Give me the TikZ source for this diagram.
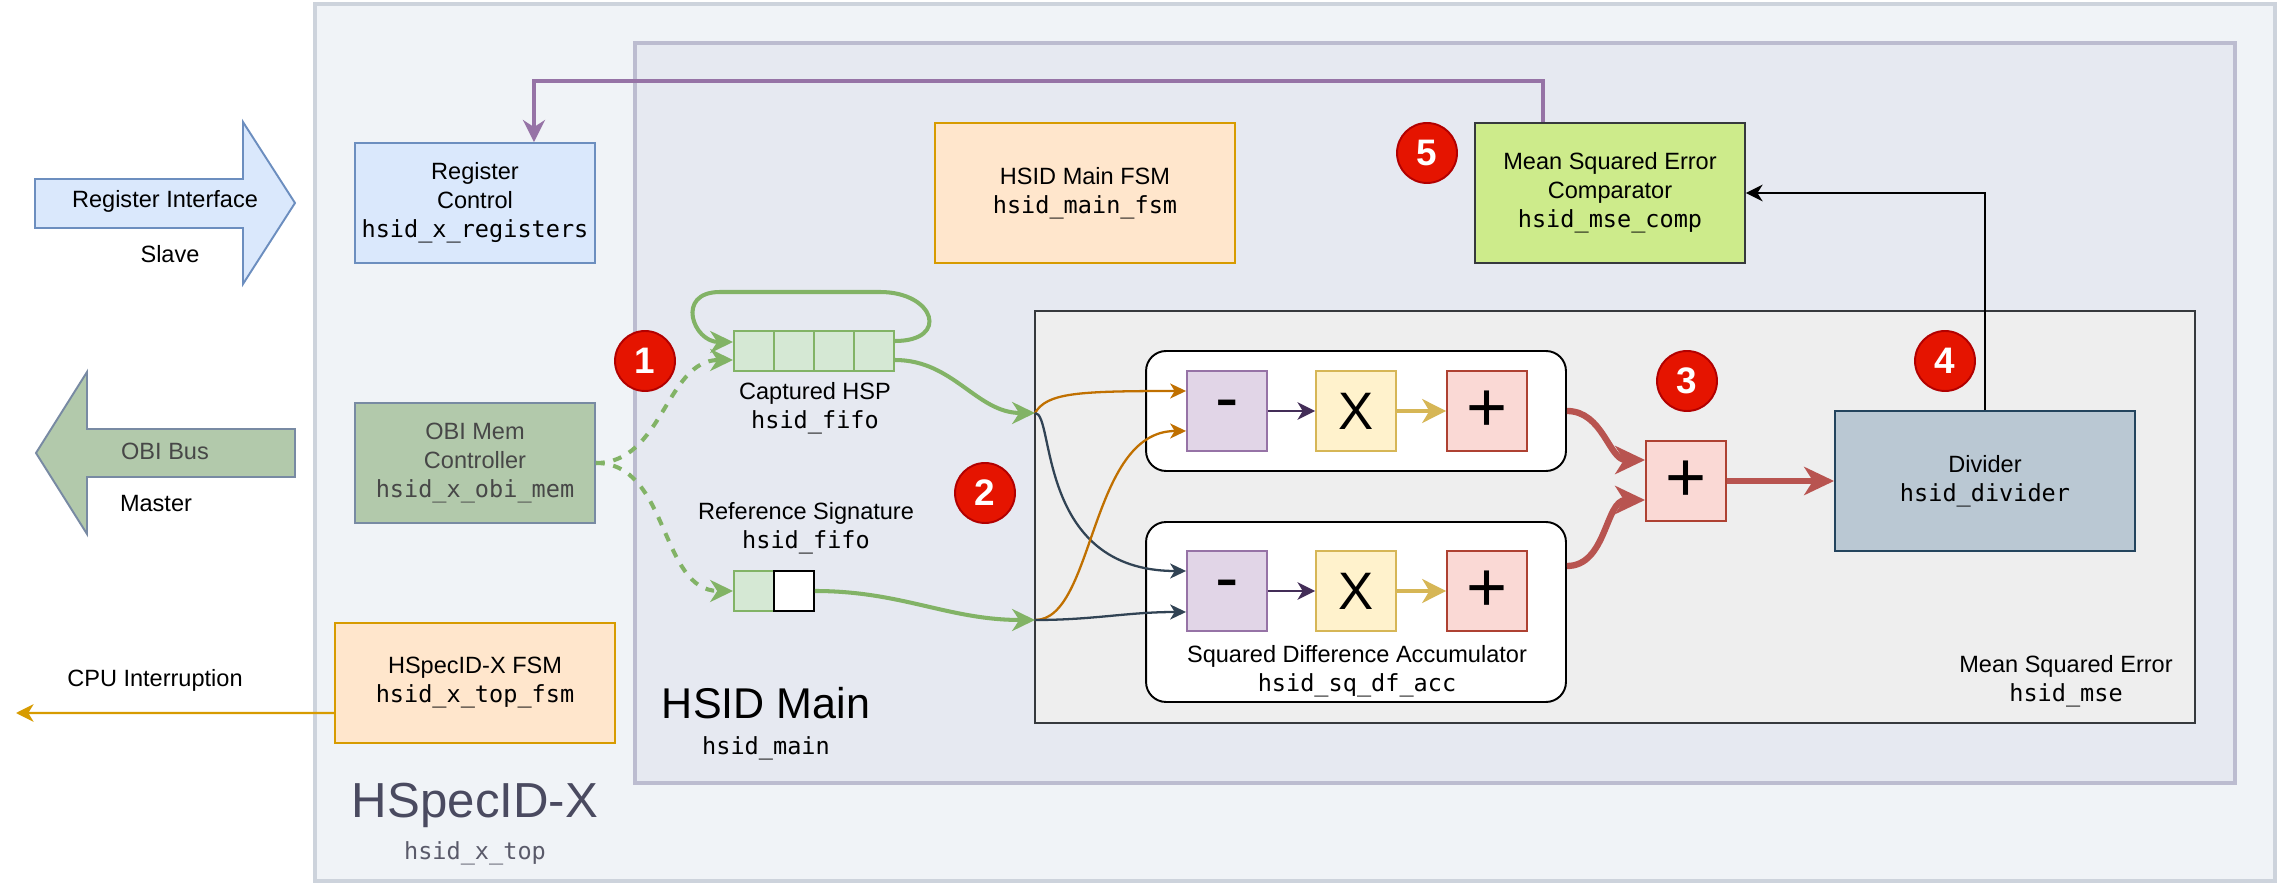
\documentclass[tikz,border=0pt]{standalone}
\usepackage{fontspec}
\setmainfont{Liberation Sans}
\setmonofont{DejaVu Sans Mono}
\usetikzlibrary{arrows.meta}
\definecolor{topfill}{HTML}{F0F3F7}
\definecolor{topline}{HTML}{CDD3DC}
\definecolor{toptext}{HTML}{4A4A60}
\definecolor{topmod}{HTML}{5A5A6A}
\definecolor{mainfill}{HTML}{E6E9F1}
\definecolor{mainline}{HTML}{BCBCD0}
\definecolor{msefill}{HTML}{EEEEEE}
\definecolor{mseline}{HTML}{36393D}
\definecolor{bluefill}{HTML}{DAE8FC}
\definecolor{blueline}{HTML}{6C8EBF}
\definecolor{obifill}{HTML}{B2C9AB}
\definecolor{obiline}{HTML}{788AA3}
\definecolor{obitext}{HTML}{474747}
\definecolor{fsmfill}{HTML}{FFE6CC}
\definecolor{fsmline}{HTML}{D79B00}
\definecolor{compfill}{HTML}{CDEB8B}
\definecolor{fifofill}{HTML}{D5E8D4}
\definecolor{fifoline}{HTML}{82B366}
\definecolor{subfill}{HTML}{E1D5E7}
\definecolor{subline}{HTML}{9673A6}
\definecolor{mulfill}{HTML}{FFF2CC}
\definecolor{mulline}{HTML}{D6B656}
\definecolor{addfill}{HTML}{FAD9D5}
\definecolor{addline}{HTML}{AE4132}
\definecolor{redarrow}{HTML}{B85450}
\definecolor{divfill}{HTML}{BAC8D3}
\definecolor{divline}{HTML}{23445D}
\definecolor{badgefill}{HTML}{E51400}
\definecolor{badgeline}{HTML}{B20000}
\definecolor{orangewire}{HTML}{C07000}
\definecolor{darkwire}{HTML}{314354}
\definecolor{subwire}{HTML}{432D57}

\begin{document}
\begin{tikzpicture}[x=0.02cm, y=-0.02cm,
		lbl/.style={align=center, inner sep=0pt, font=\fontsize{13.4}{16.5}\selectfont},
		blk/.style={lbl, draw, line width=1.1pt},
		op/.style={draw, line width=1.1pt, minimum width=1.6cm, minimum height=1.6cm, inner sep=0pt, font=\fontsize{40}{40}\selectfont},
		cell/.style={draw=fifoline, fill=fifofill, line width=1.1pt, minimum size=0.8cm, inner sep=0pt},
		acc/.style={draw=black, fill=white, line width=1.1pt, rounded corners=0.4cm, minimum width=8.4cm},
		badge/.style={circle, draw=badgeline, fill=badgefill, line width=1.1pt, minimum size=1.2cm, inner sep=0pt, text=white, font=\bfseries\fontsize{21}{21}\selectfont},
		gline/.style={draw=fifoline, line width=2.3pt, -{Stealth[length=13pt, width=12.5pt, inset=4pt]}},
		gdash/.style={gline, dash pattern=on 5pt off 5pt},
		oline/.style={draw=orangewire, line width=1.3pt, -{Stealth[length=9pt, width=8.5pt, inset=2.5pt]}},
		dline/.style={oline, draw=darkwire},
		pline/.style={draw=subwire, line width=1.5pt, -{Stealth[length=10pt, width=10pt, inset=3pt]}},
		yline/.style={draw=mulline, line width=2.5pt, -{Stealth[length=13.5pt, width=13.5pt, inset=4pt]}},
		rline/.style={draw=redarrow, line width=3.6pt, -{Stealth[length=17pt, width=16pt, inset=5pt]}},
		kline/.style={draw=black, line width=1.2pt, -{Stealth[length=9.5pt, width=9.5pt, inset=3pt]}},
		vline/.style={draw=subline, line width=2.3pt, -{Stealth[length=12.5pt, width=12.5pt, inset=4pt]}},
		cline/.style={draw=fsmline, line width=1.3pt, -{Stealth[length=10pt, width=10pt, inset=3pt]}}]
	\useasboundingbox (0,0) rectangle (2278,884);
	\filldraw[fill=topfill, draw=topline, line width=2pt] (315,4) rectangle (2275,881);
	\filldraw[fill=mainfill, draw=mainline, line width=2pt] (635,43) rectangle (2235,783);
	\filldraw[fill=msefill, draw=mseline, line width=1.1pt] (1035,311) rectangle (2195,723);

	\filldraw[fill=bluefill, draw=blueline, line width=1.1pt] (35,179) -- (243,179) -- (243,122) -- (295,203) -- (243,284) -- (243,228) -- (35,228) -- cycle;
	\filldraw[fill=obifill, draw=obiline, line width=1.1pt] (295,429) -- (87,429) -- (87,372) -- (36,453) -- (87,534) -- (87,477) -- (295,477) -- cycle;
	\node[lbl] (regif) at (165,201) {Register Interface};
	\node[lbl] (slave) at (170,254) {Slave};
	\node[lbl, text=obitext] (obibus) at (165,451) {OBI Bus};
	\node[lbl] (master) at (156,504) {Master};
	\node[lbl] (cpulbl) at (155,680) {CPU Interruption};
	\coordinate (cpu) at (16,713);

	\node[blk, fill=bluefill, draw=blueline, minimum width=4.8cm, minimum height=2.4cm] (regctl) at (475,203) {Register\\Control\\\texttt{hsid\_x\_registers}};
	\node[blk, fill=obifill, draw=obiline, text=obitext, minimum width=4.8cm, minimum height=2.4cm] (obimem) at (475,463) {OBI Mem\\Controller\\\texttt{hsid\_x\_obi\_mem}};
	\node[blk, fill=fsmfill, draw=fsmline, minimum width=5.6cm, minimum height=2.4cm] (topfsm) at (475,683) {HSpecID-X FSM\\\texttt{hsid\_x\_top\_fsm}};
	\node[blk, fill=fsmfill, draw=fsmline, minimum width=6cm, minimum height=2.8cm] (mainfsm) at (1085,193) {HSID Main FSM\\\texttt{hsid\_main\_fsm}};
	\node[blk, fill=compfill, draw=mseline, minimum width=5.4cm, minimum height=2.8cm] (comp) at (1610,193) {Mean Squared Error\\Comparator\\\texttt{hsid\_mse\_comp}};
	\node[blk, fill=divfill, draw=divline, minimum width=6cm, minimum height=2.8cm] (div) at (1985,481) {Divider\\\texttt{hsid\_divider}};

	\node[cell] (hsp1) at (754,351) {};
	\node[cell] (hsp2) at (794,351) {};
	\node[cell] (hsp3) at (834,351) {};
	\node[cell] (hsp4) at (874,351) {};
	\node[lbl] (hsplbl) at (815,408) {Captured HSP\\\texttt{hsid\_fifo}};
	\node[cell] (ref1) at (754,591) {};
	\node[cell, fill=white, draw=black] (ref2) at (794,591) {};
	\node[lbl] (reflbl) at (806,528) {Reference Signature\\\texttt{hsid\_fifo}};

	\node[acc, minimum height=2.4cm] (sda1) at (1356,411) {};
	\node[acc, minimum height=3.6cm] (sda2) at (1356,612) {};
	\node[lbl] (sdalbl) at (1357,671) {Squared Difference Accumulator\\\texttt{hsid\_sq\_df\_acc}};
	\node[op, fill=subfill, draw=subline] (sub1) at (1227,411) {-};
	\node[op, fill=mulfill, draw=mulline, font=\fontsize{30}{30}\selectfont] (mul1) at (1356,411) {X};
	\node[op, fill=addfill, draw=addline] (add1) at (1487,411) {+};
	\node[op, fill=subfill, draw=subline] (sub2) at (1227,591) {-};
	\node[op, fill=mulfill, draw=mulline, font=\fontsize{30}{30}\selectfont] (mul2) at (1356,591) {X};
	\node[op, fill=addfill, draw=addline] (add2) at (1487,591) {+};
	\node[op, fill=addfill, draw=addline] (sum) at (1686,481) {+};
	\coordinate (inA) at (1035,413);
	\coordinate (inB) at (1035,620);

	\node[lbl] (mselbl) at (2066,681) {Mean Squared Error\\\texttt{hsid\_mse}};
	\node[lbl, font=\fontsize{24.5}{24.5}\selectfont] (mainlbl) at (766,703) {HSID Main};
	\node[lbl] (mainmod) at (766,748) {\texttt{hsid\_main}};
	\node[lbl, text=toptext, font=\fontsize{28}{28}\selectfont] (toplbl) at (475,805) {HSpecID-X};
	\node[lbl, text=topmod] (topmod) at (475,853) {\texttt{hsid\_x\_top}};

	\draw[gdash] (obimem.east) to[out=0, in=180] ([yshift=-0.18cm]hsp1.west);
	\draw[gdash] (obimem.east) to[out=0, in=180] (ref1.west);
	\draw[gline] ([yshift=0.2cm]hsp4.east) .. controls +(55,0) and +(55,0) .. (880,292) -- (720,292) .. controls +(-45,0) and +(-40,0) .. ([yshift=0.18cm]hsp1.west);
	\draw[gline] ([yshift=-0.18cm]hsp4.east) to[out=0, in=180] (inA);
	\draw[gline] (ref2.east) to[out=0, in=180] (inB);

	\draw[oline] (inA) .. controls +(12,-20) and +(-110,0) .. ([yshift=0.4cm]sub1.west);
	\draw[dline] (inA) .. controls +(20,0) and +(-150,0) .. ([yshift=0.4cm]sub2.west);
	\draw[oline] (inB) .. controls +(60,0) and +(-97,0) .. ([yshift=-0.4cm]sub1.west);
	\draw[dline] (inB) to[out=0, in=180] ([yshift=-0.42cm]sub2.west);
	\draw[pline] (sub1) -- (mul1);
	\draw[yline] (mul1) -- (add1);
	\draw[pline] (sub2) -- (mul2);
	\draw[yline] (mul2) -- (add2);

	\draw[rline] (sda1.east) to[out=0, in=180] ([yshift=0.42cm]sum.west);
	\draw[rline] ([yshift=0.92cm]sda2.east) to[out=0, in=180] ([yshift=-0.38cm]sum.west);
	\draw[rline] (sum) -- (div);
	\draw[kline] (div.north) |- (comp.east);
	\draw[vline] ([xshift=-1.35cm]comp.north) -- ++(0,-41) -| ([xshift=1.18cm]regctl.north);
	\draw[cline] ([yshift=-0.6cm]topfsm.west) -- (cpu);

	\node[badge] (b1) at (645,361) {1};
	\node[badge] (b2) at (985,493) {2};
	\node[badge] (b3) at (1687,381) {3};
	\node[badge] (b4) at (1945,361) {4};
	\node[badge] (b5) at (1427,153) {5};
\end{tikzpicture}
\end{document}
